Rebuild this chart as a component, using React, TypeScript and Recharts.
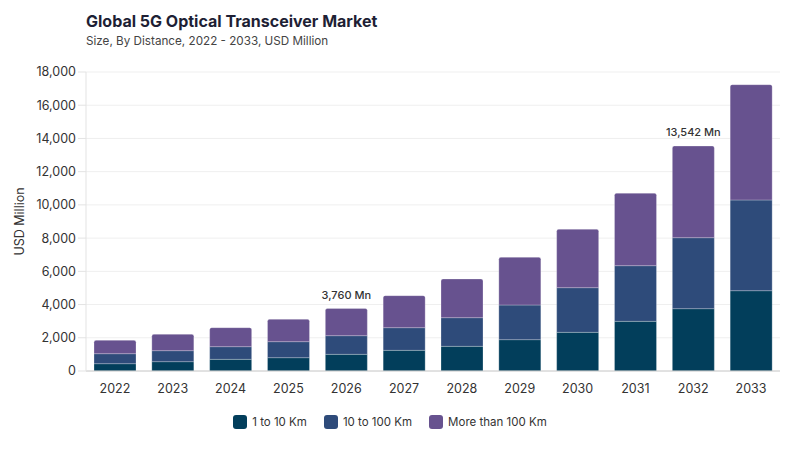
import React from 'react';
import { BarChart, Bar, XAxis, YAxis, CartesianGrid, Legend, LabelList } from 'recharts';

const years = ['2022', '2023', '2024', '2025', '2026', '2027', '2028', '2029', '2030', '2031', '2032', '2033'];
const shortRange = [441, 562, 702, 802, 1003, 1244, 1485, 1886, 2328, 2990, 3753, 4834];
const midRange = [602, 662, 763, 964, 1124, 1365, 1726, 2087, 2689, 3351, 4273, 5461];
const longRange = [803, 983, 1144, 1344, 1633, 1926, 2328, 2870, 3513, 4357, 5516, 6942];
const annotations: Record<string, string> = { '2026': '3,760 Mn', '2032': '13,542 Mn' };
const yTicks = [0, 2000, 4000, 6000, 8000, 10000, 12000, 14000, 16000, 18000];

const seriesNames = ['1 to 10 Km', '10 to 100 Km', 'More than 100 Km'];
const colors = ['#023E5B', '#2E4B7A', '#67528F'];

const data = years.map((y, i) => ({
  year: y,
  a: shortRange[i],
  b: midRange[i],
  c: longRange[i],
  note: annotations[y] || '',
}));

const FONT = 'Inter, "Noto Sans", sans-serif';

const renderLegend = () => (
  <div style={{ display: 'flex', justifyContent: 'center', alignItems: 'center', paddingTop: 14, fontFamily: FONT, fontSize: 11.5, color: '#333' }}>
    {seriesNames.map((n, i) => (
      <div key={n} style={{ display: 'flex', alignItems: 'center', marginRight: i < 2 ? 17 : 0 }}>
        <div style={{ width: 14, height: 14, borderRadius: 3, background: colors[i], marginRight: 5 }} />
        <span>{n}</span>
      </div>
    ))}
  </div>
);

const NoteLabel = (props: any) => {
  const { x, y, width, value } = props;
  if (!value) return null;
  return (
    <text x={x + width / 2} y={y - 10} textAnchor="middle" fontFamily={FONT} fontSize={11} fontWeight={500} fill="#333">
      {value}
    </text>
  );
};

export default function App() {
  return (
    <div style={{ position: 'absolute', left: 0, top: 0, width: 800, height: 450, background: '#fff', fontFamily: FONT }}>
      <div style={{ position: 'absolute', left: 86, top: 11, fontSize: 16, fontWeight: 700, color: '#1E1F35', whiteSpace: 'nowrap' }}>
        Global 5G Optical Transceiver Market
      </div>
      <div style={{ position: 'absolute', left: 86, top: 34, fontSize: 11.7, color: '#444', whiteSpace: 'nowrap' }}>
        Size, By Distance, 2022 - 2033, USD Million
      </div>
      <div style={{ position: 'absolute', left: 0, top: 0 }}>
        <BarChart width={800} height={450} data={data} margin={{ top: 72, right: 20, bottom: 19, left: 0 }} barSize={42}>
          <CartesianGrid vertical={false} stroke="#EFEFEF" />
          <XAxis
            dataKey="year"
            height={30}
            tickLine={false}
            axisLine={{ stroke: '#CCCCCC' }}
            tick={{ fontFamily: FONT, fontSize: 12.5, fill: '#333', dy: 5 }}
          />
          <YAxis
            width={86}
            domain={[0, 18000]}
            ticks={yTicks}
            interval={0}
            tickFormatter={(v: number) => v.toLocaleString('en-US')}
            axisLine={{ stroke: '#E3E3E3' }}
            tickLine={{ stroke: '#E3E3E3' }}
            tickSize={8}
            tick={{ fontFamily: FONT, fontSize: 12.5, fill: '#333' }}
            label={{ value: 'USD Million', angle: -90, position: 'insideLeft', offset: 20, style: { fontFamily: FONT, fontSize: 12.5, fill: '#333', textAnchor: 'middle' } }}
          />
          <Legend verticalAlign="bottom" height={30} content={renderLegend} />
          <Bar dataKey="a" stackId="s" fill={colors[0]} stroke="rgba(255,255,255,0.25)" isAnimationActive={false} />
          <Bar dataKey="b" stackId="s" fill={colors[1]} stroke="rgba(255,255,255,0.25)" isAnimationActive={false} />
          <Bar dataKey="c" stackId="s" fill={colors[2]} stroke="rgba(255,255,255,0.25)" radius={[2, 2, 0, 0]} isAnimationActive={false}>
            <LabelList dataKey="note" content={NoteLabel} />
          </Bar>
        </BarChart>
      </div>
    </div>
  );
}
